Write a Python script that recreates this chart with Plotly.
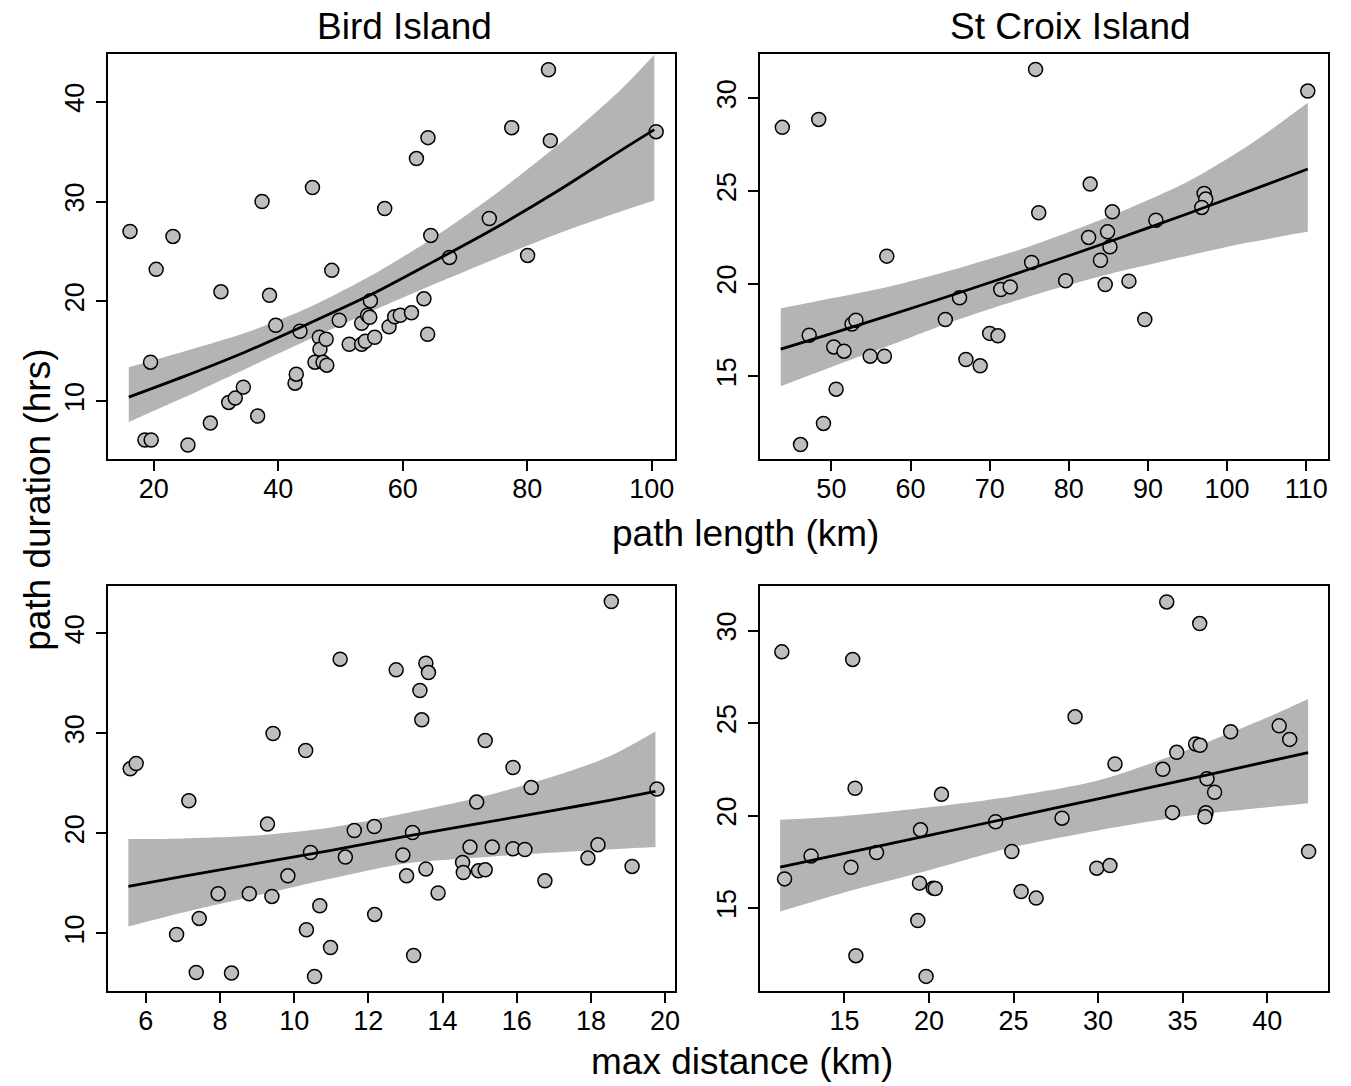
import plotly.graph_objects as go

# ---------------- data ----------------
# Bird Island: path length (km) vs path duration (hrs)
bird_len_x = [16.2, 18.6, 19.6, 19.5, 20.4, 23.1, 25.5, 29.1, 30.8, 32.05, 33.1, 34.4, 36.7, 37.4, 38.6,
              39.6, 42.7, 42.9, 43.5, 45.5, 45.9, 46.6, 46.7, 47.2, 47.7, 47.8, 48.6, 49.8, 51.4, 53.4,
              53.4, 54.0, 54.35, 54.7, 54.8, 55.5, 57.1, 57.8, 58.7, 59.6, 61.4, 62.2, 63.4, 64.0, 64.05,
              64.5, 67.5, 73.9, 77.5, 80.05, 83.4, 83.7, 100.7]
bird_len_y = [27.0, 6.1, 6.1, 13.9, 23.2, 26.5, 5.6, 7.8, 20.95, 9.87, 10.3, 11.4, 8.5, 30.0, 20.6,
              17.6, 11.8, 12.7, 17.0, 31.4, 13.9, 16.4, 15.2, 13.9, 16.2, 13.6, 23.1, 18.1, 15.7, 15.7,
              17.8, 16.0, 18.6, 18.4, 20.05, 16.4, 29.3, 17.45, 18.45, 18.6, 18.85, 34.3, 20.25, 16.7, 36.4,
              26.6, 24.4, 28.3, 37.4, 24.6, 43.2, 36.1, 37.0]
bird_len_grid = [16, 25, 35, 45, 55, 65, 75, 85, 95, 100.4]
bird_len_fit = [10.4, 12.5, 15.0, 17.8, 20.7, 24.0, 27.4, 31.1, 35.1, 37.2]
bird_len_upper = [13.4, 15.0, 16.9, 19.4, 22.6, 26.4, 30.8, 35.7, 41.2, 44.7]
bird_len_lower = [7.9, 10.4, 13.3, 16.2, 19.0, 21.7, 24.3, 26.8, 29.0, 30.1]

# St Croix Island: path length (km) vs path duration (hrs)
croix_len_x = [43.8, 48.4, 57.0, 47.2, 50.3, 51.6, 52.6, 53.1, 54.9, 56.7, 50.6, 49.0, 46.1, 64.4, 66.2,
               67.0, 68.8, 70.0, 71.05, 71.4, 72.6, 75.8, 110.2, 82.7, 76.2, 85.5, 82.5, 84.9, 85.2, 84.0,
               91.0, 97.1, 97.3, 96.8, 75.3, 79.6, 84.6, 87.6, 89.6]
croix_len_y = [28.43, 28.86, 21.48, 17.21, 16.58, 16.35, 17.81, 18.02, 16.08, 16.08, 14.30, 12.45, 11.31,
               18.06, 19.23, 15.90, 15.56, 17.31, 17.18, 19.68, 19.82, 31.56, 30.39, 25.37, 23.82, 23.87,
               22.49, 22.79, 21.98, 21.26, 23.42, 24.86, 24.56, 24.11, 21.14, 20.15, 19.95, 20.13, 18.06]
croix_len_grid = [43.6, 50, 57, 65, 75, 85, 95, 102.5, 110.2]
croix_len_fit = [16.46, 17.3, 18.24, 19.34, 20.77, 22.24, 23.77, 24.95, 26.18]
croix_len_upper = [18.66, 19.2, 19.8, 20.7, 22.0, 23.6, 25.5, 27.4, 29.76]
croix_len_lower = [14.46, 15.5, 16.6, 17.9, 19.3, 20.5, 21.5, 22.2, 22.79]

# Bird Island: max distance (km) vs path duration (hrs)
bird_dist_x = [5.58, 5.74, 7.16, 9.43, 10.31, 11.24, 12.75, 9.28, 11.62, 12.16, 10.44, 11.38, 9.83, 7.95,
               8.79, 9.40, 7.44, 6.83, 10.69, 12.17, 10.33, 10.98, 7.36, 8.31, 10.55, 12.93,
               18.55, 13.55, 13.62, 13.39, 13.44, 15.15, 15.90, 16.39, 19.78, 14.92, 13.19, 13.55, 13.03,
               13.88, 14.74, 15.34, 15.90, 16.22, 14.54, 14.56, 14.97, 15.15, 16.76, 17.92, 18.19, 19.11,
               13.22]
bird_dist_y = [26.45, 26.98, 23.26, 29.98, 28.28, 37.41, 36.34, 20.93, 20.29, 20.69, 18.09, 17.63, 15.76,
               13.97, 13.97, 13.70, 11.50, 9.90, 12.77, 11.90, 10.37, 8.60, 6.10, 6.04, 5.70, 17.85,
               43.17, 37.01, 36.07, 34.28, 31.35, 29.28, 26.58, 24.59, 24.43, 23.13, 20.09, 16.43, 15.76,
               14.04, 18.63, 18.63, 18.46, 18.39, 17.09, 16.09, 16.26, 16.36, 15.26, 17.53, 18.86, 16.70,
               7.80]
bird_dist_grid = [5.53, 7, 9, 11, 13, 15, 17, 18.5, 19.74]
bird_dist_fit = [14.70, 15.7, 17.0, 18.3, 19.7, 21.0, 22.3, 23.3, 24.19]
bird_dist_upper = [19.43, 19.5, 19.8, 20.6, 22.0, 23.6, 25.7, 27.7, 30.18]
bird_dist_lower = [10.70, 12.1, 13.8, 15.5, 17.0, 17.6, 18.1, 18.4, 18.63]

# St Croix Island: max distance (km) vs path duration (hrs)
croix_dist_x = [11.30, 15.49, 15.63, 20.74, 13.03, 11.46, 15.39, 16.90, 19.50, 23.94, 24.90, 19.44, 20.25,
                20.37, 25.45, 26.34, 19.34, 15.68, 19.83,
                34.06, 36.01, 28.64, 40.71, 41.33, 37.84, 35.77, 36.03, 34.65, 31.0, 33.83, 36.44, 36.89,
                27.87, 34.40, 36.38, 36.32, 42.45, 29.92, 30.70]
croix_dist_y = [28.85, 28.44, 21.48, 21.15, 17.82, 16.58, 17.21, 18.0, 19.23, 19.67, 18.06, 16.35, 16.08,
                16.06, 15.9, 15.54, 14.33, 12.43, 11.31,
                31.55, 30.38, 25.34, 24.85, 24.12, 24.53, 23.87, 23.80, 23.42, 22.79, 22.50, 21.99, 21.26,
                19.86, 20.16, 20.16, 19.94, 18.06, 17.16, 17.30]
croix_dist_grid = [11.2, 15, 20, 25, 30, 35, 40, 42.42]
croix_dist_fit = [17.21, 17.96, 18.93, 19.92, 20.91, 21.9, 22.92, 23.40]
croix_dist_upper = [19.77, 19.98, 20.45, 21.05, 21.9, 23.45, 25.3, 26.30]
croix_dist_lower = [14.82, 15.85, 17.05, 18.3, 19.2, 19.95, 20.45, 20.67]

# axis ticks
bird_len_xticks = [20, 40, 60, 80, 100]
croix_len_xticks = [50, 60, 70, 80, 90, 100, 110]
bird_dist_xticks = [6, 8, 10, 12, 14, 16, 18, 20]
croix_dist_xticks = [15, 20, 25, 30, 35, 40]
bird_yticks = [10, 20, 30, 40]
croix_yticks = [15, 20, 25, 30]

# ---------------- style ----------------
W, H = 1351, 1086
FONT = "Liberation Sans, Arial, Helvetica, sans-serif"
BAND = "#B4B4B4"
POINT = "#BEBEBE"

panels = [
    dict(x=bird_len_x, y=bird_len_y, g=bird_len_grid, f=bird_len_fit, u=bird_len_upper, l=bird_len_lower,
         xt=bird_len_xticks, yt=bird_yticks, xr=[12.6, 103.8], yr=[4.2, 44.78],
         dx=[108, 678], dy=[54, 459]),
    dict(x=croix_len_x, y=croix_len_y, g=croix_len_grid, f=croix_len_fit, u=croix_len_upper, l=croix_len_lower,
         xt=croix_len_xticks, yt=croix_yticks, xr=[40.94, 112.76], yr=[10.53, 32.39],
         dx=[762.5, 1333], dy=[54, 459]),
    dict(x=bird_dist_x, y=bird_dist_y, g=bird_dist_grid, f=bird_dist_fit, u=bird_dist_upper, l=bird_dist_lower,
         xt=bird_dist_xticks, yt=bird_yticks, xr=[4.97, 20.28], yr=[4.25, 44.72],
         dx=[108, 678], dy=[586, 991]),
    dict(x=croix_dist_x, y=croix_dist_y, g=croix_dist_grid, f=croix_dist_fit, u=croix_dist_upper, l=croix_dist_lower,
         xt=croix_dist_xticks, yt=croix_yticks, xr=[9.99, 43.6], yr=[10.52, 32.41],
         dx=[762.5, 1333], dy=[586, 991]),
]

fig = go.Figure()
layout = {}
for i, p in enumerate(panels):
    n = "" if i == 0 else str(i + 1)
    xa, ya = "x" + n, "y" + n
    common = dict(xaxis=xa, yaxis=ya, showlegend=False, hoverinfo="skip")
    fig.add_trace(go.Scatter(x=p["g"], y=p["l"], mode="lines",
                             line=dict(width=0, shape="spline", smoothing=0.8, color=BAND), **common))
    fig.add_trace(go.Scatter(x=p["g"], y=p["u"], mode="lines", fill="tonexty", fillcolor=BAND,
                             line=dict(width=0, shape="spline", smoothing=0.8, color=BAND), **common))
    fig.add_trace(go.Scatter(x=p["x"], y=p["y"], mode="markers",
                             marker=dict(size=14, color=POINT, line=dict(color="black", width=1.5)),
                             **common))
    fig.add_trace(go.Scatter(x=p["g"], y=p["f"], mode="lines",
                             line=dict(color="black", width=2.8, shape="spline", smoothing=0.8), **common))
    axstyle = dict(showgrid=False, zeroline=False, showline=True, linecolor="black", linewidth=1.6,
                   mirror=True, ticks="outside", ticklen=10, tickwidth=1.5, tickcolor="black",
                   tickfont=dict(family=FONT, size=27, color="black"), tickmode="array")
    layout["xaxis" + n] = dict(axstyle, domain=[p["dx"][0] / W, p["dx"][1] / W], range=p["xr"],
                               tickvals=p["xt"], anchor=ya, ticklabelstandoff=-5)
    layout["yaxis" + n] = dict(axstyle, domain=[1 - p["dy"][1] / H, 1 - p["dy"][0] / H], range=p["yr"],
                               tickvals=p["yt"], tickangle=-90, anchor=xa, ticklabelstandoff=1)

def ann(text, xpx, ypx, angle=0):
    return dict(text=text, x=xpx / W, y=1 - ypx / H, xref="paper", yref="paper", showarrow=False,
                xanchor="center", yanchor="middle", textangle=angle,
                font=dict(family=FONT, size=37, color="black"))

annotations = [
    ann("Bird Island", 406, 27),
    ann("St Croix Island", 1074, 27),
    ann("path length (km)", 748, 533),
    ann("max distance (km)", 745, 1061),
    ann("path duration (hrs)", 38, 500, -90),
]

fig.update_layout(width=W, height=H, autosize=False, margin=dict(l=0, r=0, t=0, b=0, pad=0),
                  paper_bgcolor="white", plot_bgcolor="white", annotations=annotations,
                  font=dict(family=FONT, color="black"), hovermode=False, **layout)

fig.write_html("out.html", config={"displayModeBar": False})
